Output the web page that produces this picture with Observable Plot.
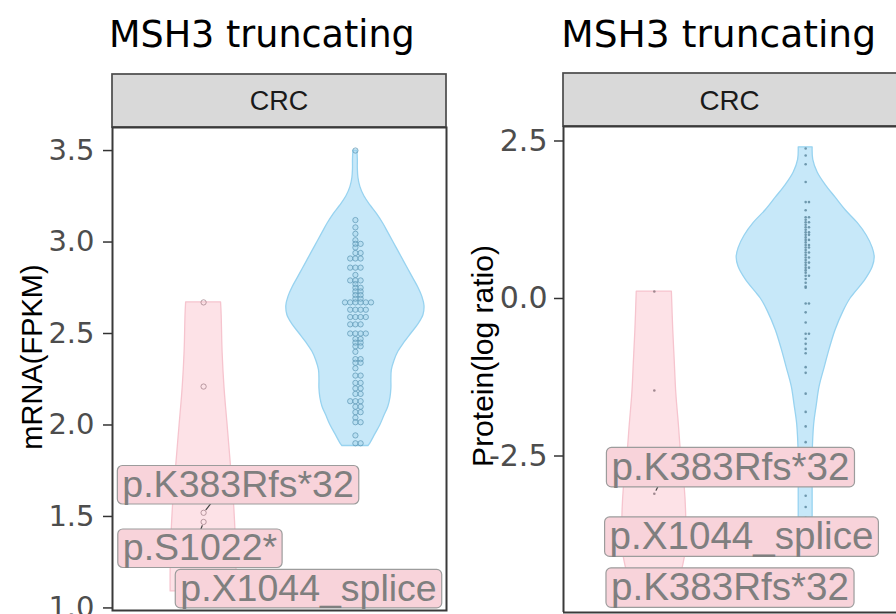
<!DOCTYPE html>
<html>
<head>
<meta charset="utf-8">
<script src="https://cdn.jsdelivr.net/npm/d3@7"></script>
<script src="https://cdn.jsdelivr.net/npm/@observablehq/plot@0.6"></script>
<style>
  html, body { margin: 0; padding: 0; background: #fff; overflow: hidden; }
  #chart { position: relative; width: 896px; height: 614px; overflow: hidden; background: #fff; }
  #chart svg { position: absolute; top: 0; }
</style>
</head>
<body>
<div id="chart"></div>
<script>
// ---- MSH3 truncating vs. wild type, CRC ----------------------------------
// Group positions on the discrete x axis: 1 = truncating, 2 = wild type
const MUT = 1, WT = 2;

// mRNA (FPKM)
const mrnaTruncating = [2.67, 2.21, 1.52, 1.47, 1.09];
const mrnaWildtype = [
  3.50,
  3.12, 3.08, 3.045, 3.01,
  2.99, 2.99, 2.97, 2.94, 2.94,
  2.91, 2.91, 2.91, 2.86, 2.86, 2.86, 2.82,
  2.79, 2.79, 2.79, 2.77, 2.75, 2.75, 2.73, 2.73, 2.71, 2.71, 2.69, 2.69,
  2.67, 2.67, 2.67, 2.67, 2.67, 2.67,
  2.63, 2.63, 2.63, 2.63, 2.59, 2.59, 2.59, 2.59, 2.55, 2.55, 2.55,
  2.50, 2.50, 2.50, 2.50, 2.47, 2.47, 2.45, 2.45, 2.43, 2.43, 2.40,
  2.36, 2.36, 2.34, 2.34, 2.31, 2.27, 2.27, 2.23, 2.23, 2.20, 2.20,
  2.17, 2.17, 2.13, 2.13, 2.13, 2.10, 2.10, 2.07, 2.07, 2.04,
  2.015, 2.015, 1.943, 1.90, 1.90
];
// violin outlines: [value, half-width in x units]
const mrnaTruncatingViolin = [
  [2.67, 0.115], [2.60, 0.119], [2.40, 0.125], [2.20, 0.138], [2.00, 0.158],
  [1.80, 0.178], [1.60, 0.198], [1.40, 0.211], [1.20, 0.217], [1.09, 0.217]
];
const mrnaWildtypeViolin = [
  [3.50, 0.013], [3.45, 0.016], [3.40, 0.016], [3.35, 0.020], [3.30, 0.033],
  [3.25, 0.059], [3.20, 0.099], [3.15, 0.145], [3.10, 0.184], [3.05, 0.217],
  [3.00, 0.250], [2.95, 0.283], [2.90, 0.316], [2.85, 0.349], [2.80, 0.382],
  [2.75, 0.415], [2.70, 0.441], [2.65, 0.455], [2.60, 0.448], [2.55, 0.415],
  [2.50, 0.369], [2.45, 0.323], [2.40, 0.283], [2.35, 0.257], [2.30, 0.240],
  [2.25, 0.237], [2.20, 0.237], [2.15, 0.231], [2.10, 0.217], [2.05, 0.191],
  [2.00, 0.165], [1.95, 0.132], [1.90, 0.099], [1.885, 0.086]
];
const mrnaTicks = [1.0, 1.5, 2.0, 2.5, 3.0, 3.5];
const mrnaLabelText = ["p.K383Rfs*32", "p.S1022*", "p.X1044_splice"];
const mrnaLabelValue = [1.52, 1.47, 1.09];
const mrnaLabelX = [1.227, 0.976, 1.691];
const mrnaLabelY = [1.672, 1.325, 1.104];
const mrnaLeaderX = [1.144, 0.934, 1.691];

// Protein (log ratio)
const proteinTruncating = [0.11, -1.46, -3.1, -3.8, -4.6];
const proteinWildtype = [
  2.38, 2.27, 2.13, 1.85, 1.53, 1.53, 1.40,
  1.29, 1.29, 1.25, 1.21, 1.21, 1.17, 1.13, 1.13, 1.09, 1.05, 1.05,
  1.01, 1.01, 0.97, 0.93, 0.93, 0.89, 0.85, 0.85, 0.81, 0.81, 0.77,
  0.73, 0.73, 0.69, 0.65, 0.65, 0.61, 0.57, 0.57, 0.53, 0.49, 0.49,
  0.45, 0.41, 0.36, 0.36, 0.31, 0.25, 0.19, 0.17,
  -0.08, -0.08, -0.22, -0.38, -0.56, -0.56, -0.64, -0.72, -0.80, -0.87,
  -1.09, -1.18, -1.51, -1.80, -2.03, -2.28, -3.13, -3.31, -3.48
];
const proteinTruncatingViolin = [
  [0.11, 0.116], [-0.50, 0.125], [-1.00, 0.135], [-1.50, 0.145], [-2.00, 0.162],
  [-2.50, 0.178], [-3.00, 0.201], [-3.50, 0.211], [-4.00, 0.208], [-4.30, 0.185],
  [-4.60, 0.152]
];
const proteinWildtypeViolin = [
  [2.40, 0.046], [2.20, 0.050], [2.00, 0.079], [1.80, 0.132], [1.60, 0.198],
  [1.40, 0.264], [1.20, 0.343], [1.00, 0.403], [0.80, 0.443], [0.65, 0.456],
  [0.50, 0.443], [0.30, 0.396], [0.10, 0.330], [0.00, 0.297], [-0.20, 0.251],
  [-0.50, 0.198], [-0.80, 0.159], [-1.10, 0.125], [-1.40, 0.092], [-1.70, 0.073],
  [-2.00, 0.056], [-2.50, 0.046], [-3.00, 0.046], [-3.48, 0.046]
];
const proteinTicks = [-2.5, 0.0, 2.5];
const proteinLabelText = ["p.K383Rfs*32", "p.X1044_splice", "p.K383Rfs*32"];
const proteinLabelValue = [-3.1, -3.8, -4.6];
const proteinLabelX = [1.503, 1.576, 1.500];
const proteinLabelY = [-2.683, -3.786, -4.595];
const proteinLeaderX = [1.087, 1.576, 1.500];

// ---- styling ---------------------------------------------------------------
const pinkFill = "#fde2e7", pinkLine = "#f6c4ce";
const blueFill = "#c7e8f9", blueLine = "#98d3f0";
const labelFill = "#f8d3da", labelStroke = "#9c9c9c", labelInk = "#7f7f7f";
const borderInk = "#3a3a3a";
const sansA = "Liberation Sans, Arial, sans-serif";
const sansD = "DejaVu Sans, sans-serif";

// dot-plot stacking ("centerwhole"): equal values share a row
function stackDots(values, center, step) {
  const rows = d3.group(values, v => v);
  const out = [];
  for (const [v, arr] of rows) {
    const n = arr.length, shift = Math.floor((n - 1) / 2);
    for (let k = 0; k < n; k++) out.push({x: center + (k - shift) * step, y: v});
  }
  return out;
}

function labelTable(text, value, lx, ly, leadX) {
  return text.map((t, i) => ({label: t, value: value[i], lx: lx[i], ly: ly[i], leadX: leadX[i]}));
}

function violin(outline, center, fill, stroke) {
  return Plot.areaX(outline, {
    y: d => d[0], x1: d => center - d[1], x2: d => center + d[1],
    fill, stroke, strokeWidth: 1.3, curve: "catmull-rom"
  });
}

function panel(cfg) {
  const labels = labelTable(cfg.labelText, cfg.labelValue, cfg.labelX, cfg.labelY, cfg.leaderX);
  const border = cfg.fullFrame
    ? [Plot.frame({stroke: borderInk, strokeWidth: 2})]
    : [Plot.ruleX([0.4], {stroke: borderInk, strokeWidth: 2}),
       Plot.ruleY(cfg.yDomain, {stroke: borderInk, strokeWidth: 2})];
  return Plot.plot({
    width: cfg.width, height: 614,
    marginLeft: cfg.marginLeft, marginRight: cfg.marginRight,
    marginTop: cfg.marginTop, marginBottom: cfg.marginBottom,
    style: {fontFamily: sansA, background: "#fff"},
    x: {domain: [0.4, 2.6], axis: null},
    y: {domain: cfg.yDomain},
    marks: [
      violin(cfg.mutViolin, MUT, pinkFill, pinkLine),
      violin(cfg.wtViolin, WT, blueFill, blueLine),
      cfg.bigDots
        ? Plot.dot(stackDots(cfg.wtValues, WT, cfg.step), {x: "x", y: "y", r: 2.65, stroke: "#5b95b3", strokeOpacity: 0.7, fill: "#8cc4e0", fillOpacity: 0.25, strokeWidth: 1})
        : Plot.dot(stackDots(cfg.wtValues, WT, cfg.step), {x: "x", y: "y", r: 1.3, fill: "#5e8aa0", fillOpacity: 0.85, stroke: "none"}),
      cfg.bigDots
        ? Plot.dot(stackDots(cfg.mutValues, MUT, cfg.step), {x: "x", y: "y", r: 2.65, stroke: "#a7868e", strokeOpacity: 0.8, fill: "none", strokeWidth: 1})
        : Plot.dot(stackDots(cfg.mutValues, MUT, cfg.step), {x: "x", y: "y", r: 1.3, fill: "#a08890", stroke: "none"}),
      Plot.arrow(labels, {x1: () => MUT, y1: "value", x2: "leadX", y2: "ly", headLength: 0, insetStart: 4, stroke: "#444", strokeWidth: 1.2}),
      Plot.text(labels, {x: "lx", y: "ly", text: "label", textAnchor: "middle", lineAnchor: "middle",
        fontSize: cfg.labelSize, fontFamily: sansA, fill: labelInk, ariaDescription: "mutation labels"}),
      ...border,
      Plot.axisY({ticks: cfg.ticks, tickFormat: d => d.toFixed(1), tickSize: cfg.tickSize, tickPadding: cfg.tickPadding,
        fontSize: cfg.tickFont, fontFamily: sansD, fill: "#4d4d4d", stroke: "#333", strokeWidth: 1.5, label: null})
    ]
  });
}

const NS = "http://www.w3.org/2000/svg";
function el(tag, attrs, text) {
  const e = document.createElementNS(NS, tag);
  for (const k in attrs) e.setAttribute(k, attrs[k]);
  if (text != null) e.textContent = text;
  return e;
}

// title, facet strip and y-axis title around the panel
function decorate(svg, cfg) {
  const x0 = cfg.marginLeft, x1 = cfg.width - cfg.marginRight;
  const strip = el("g", {});
  strip.appendChild(el("rect", {x: x0, y: cfg.stripTop, width: x1 - x0 + cfg.stripExtra, height: cfg.marginTop - cfg.stripTop,
    fill: "#d9d9d9", stroke: "#4a4a4a", "stroke-width": 1.7}));
  strip.appendChild(el("text", {x: (x0 + x1) / 2, y: cfg.stripBaseline, "text-anchor": "middle", fill: "#1a1a1a",
    "font-family": sansA, "font-size": cfg.stripFont}, "CRC"));
  svg.insertBefore(strip, svg.firstChild.nextSibling);
  svg.appendChild(el("text", {x: cfg.titleX, y: cfg.titleBaseline, "text-anchor": "start", fill: "#000",
    "font-family": sansD, "font-size": cfg.titleFont}, "MSH3 truncating"));
  svg.appendChild(el("text", {transform: `translate(${cfg.yTitleX},${cfg.yTitleY}) rotate(-90)`, "text-anchor": "middle",
    fill: "#000", "font-family": sansA, "font-size": cfg.yTitleFont}, cfg.yTitle));
}

// label boxes behind the repelled mutation labels
function boxLabels(svg) {
  const g = svg.querySelector('g[aria-description="mutation labels"]') || svg.querySelector('g[aria-label="text"]');
  if (!g) return;
  const texts = Array.from(g.querySelectorAll("text"));
  for (const t of texts) {
    const b = t.getBBox();
    const r = el("rect", {x: b.x - 5, y: b.y + 2.5, width: b.width + 10, height: b.height - 3.5, rx: 5, ry: 5,
      fill: labelFill, stroke: labelStroke, "stroke-width": 1.2});
    const tr = t.getAttribute("transform");
    if (tr) r.setAttribute("transform", tr);
    g.insertBefore(r, g.firstChild);
  }
}

const left = {
  width: 450, marginLeft: 112, marginRight: 4, marginTop: 127, marginBottom: 4,
  yDomain: [0.986, 3.626], ticks: mrnaTicks, tickSize: 9, tickPadding: 9, tickFont: 29,
  mutValues: mrnaTruncating, wtValues: mrnaWildtype, mutViolin: mrnaTruncatingViolin, wtViolin: mrnaWildtypeViolin,
  labelText: mrnaLabelText, labelValue: mrnaLabelValue, labelX: mrnaLabelX, labelY: mrnaLabelY, leaderX: mrnaLeaderX,
  labelSize: 37.5, bigDots: true, step: 0.0343, fullFrame: true,
  stripTop: 74, stripExtra: 0, stripBaseline: 110, stripFont: 27,
  titleX: 109, titleBaseline: 46.7, titleFont: 36.5,
  yTitle: "mRNA(FPKM)", yTitleX: 42, yTitleY: 357, yTitleFont: 29
};
const right = {
  width: 446, marginLeft: 113, marginRight: 0, marginTop: 126, marginBottom: 2,
  yDomain: [-4.984, 2.730], ticks: proteinTicks, tickSize: 9, tickPadding: 7, tickFont: 30,
  mutValues: proteinTruncating, wtValues: proteinWildtype, mutViolin: proteinTruncatingViolin, wtViolin: proteinWildtypeViolin,
  labelText: proteinLabelText, labelValue: proteinLabelValue, labelX: proteinLabelX, labelY: proteinLabelY, leaderX: proteinLeaderX,
  labelSize: 38.6, bigDots: false, step: 0.0218, fullFrame: false,
  stripTop: 73, stripExtra: 10, stripBaseline: 110, stripFont: 27.8,
  titleX: 111.3, titleBaseline: 46.7, titleFont: 37.6,
  yTitle: "Protein(log ratio)", yTitleX: 43, yTitleY: 356, yTitleFont: 30
};

const chart = document.getElementById("chart");
for (const [cfg, offset] of [[left, 0], [right, 450]]) {
  const svg = panel(cfg);
  svg.style.left = offset + "px";
  chart.appendChild(svg);
  decorate(svg, cfg);
  boxLabels(svg);
}
</script>
</body>
</html>
